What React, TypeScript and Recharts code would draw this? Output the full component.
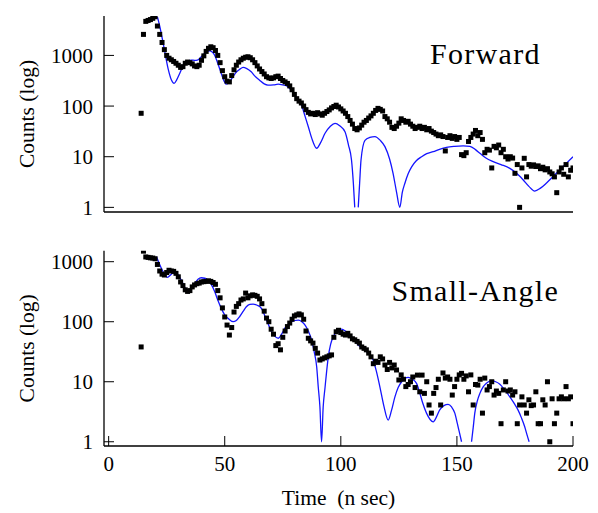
import React from 'react';
import { ComposedChart, Scatter, Line, XAxis, YAxis } from 'recharts';

const FONT = '"Liberation Serif", "Times New Roman", Times, serif';

const timeTicks = [0, 50, 100, 150, 200];
const countTicks = [1, 10, 100, 1000];

// measured counts, one per ns starting at t = 14
const firstTime = 14;

const forwardCounts = [
  72, 2600, 4700, 4900, 5100, 5400, 5800, 3800, 2600, 1800,
  1300, 1000, 880, 820, 760, 700, 640, 580, 600, 700,
  740, 720, 680, 620, 600, 640, 800, 980, 1200, 1380,
  1480, 1420, 1250, 1000, 720, 500, 380, 310, 300, 400,
  520, 640, 740, 820, 880, 920, 940, 900, 820, 720,
  620, 540, 480, 430, 380, 360, 350, 360, 380, 390,
  350, 320, 300, 280, 250, 210, 170, 140, 125, 115,
  100, 85, 75, 70, 72, 68, 74, 70, 66, 72,
  78, 84, 92, 98, 104, 96, 88, 80, 72, 62,
  52, 44, 36, 34, 37, 42, 48, 52, 58, 64,
  72, 82, 90, 86, 80, 62, 56, 48, 38, 36,
  40, 46, 56, 52, 48, 50, 44, 40, 36, 38,
  40, 36, 38, 34, 36, 32, 30, 28, 26, 27,
  25, 13, 24, 26, 23, 25, 22, 24, 11, 10.5,
  12, 20, 24, 28, 33, 26, 30, 22, 12, 14,
  13.5, 6, 16, 15, 17, 12, 14, 10, 9, 10,
  9.4, 4.7, 7, 1.0, 6, 9.3, 4, 7, 6.5, 6.9,
  6.4, 6.6, 5.8, 6.2, 5.5, 5.8, 5, 4.6, 4, 1.95,
  5, 6, 4.5, 7, 4, 5.4, 6,
];

const smallAngleCounts = [
  38, 1500, 1200, 1180, 1160, 1150, 1120, 900, 700, 620,
  600, 660, 720, 700, 690, 640, 560, 460, 400, 340,
  320, 330, 380, 410, 430, 440, 460, 465, 470, 480,
  470, 450, 420, 330, 250, 170, 120, 88, 60, 80,
  145, 180, 200, 230, 240, 300, 250, 270, 280, 275,
  265, 240, 200, 150, 115, 100, 75, 62, 40, 43,
  34, 55, 70, 83, 95, 110, 125, 130, 135, 130,
  110, 70, 53, 48, 44, 36, 30, 23, 24, 25,
  26, 27, 28, 55, 68, 72, 66, 62, 60, 64,
  58, 52, 50, 47, 44, 38, 36, 34, 30, 26,
  20, 22, 21, 26, 24, 19, 16, 21, 17, 19,
  15.7, 10.7, 13, 11, 8.3, 9, 10, 12, 8, 12.9,
  6.8, 12.9, 6.4, 10, 4.1, 3, 6.4, 8, 11, 4.1,
  14, 11.5, 12, 11, 6, 8.3, 11, 13, 13.8, 11,
  12.5, 6.8, 13, 4.1, 9, 8.8, 11, 3, 11.5, 7.3,
  8.3, 10, 6, 7, 6.4, 2, 7.3, 10, 7, 7.3,
  6, 6.8, 2, 4.1, 5.6, 4.1, 3, 5, 4, 4.1,
  6.8, 2, 2, 5, 4.1, 10, 1.0, 5.2, 2, 3,
  5.2, 5.6, 5.2, 8.3, 5.2, 5.6, 2,
];

// fitted curves [time, counts]; null marks where the curve drops below 1
const forwardFit: [number, number | null][] = [
  [21, 5750], [22, 3800], [23.5, 1730], [25.6, 550], [27, 330], [28.2, 280],
  [29.3, 330], [30.6, 440], [32, 620], [33.5, 750], [35.6, 810], [37, 800],
  [38.5, 820], [40, 950], [41.4, 1100], [43.5, 1230], [44.6, 1170], [45.7, 1000],
  [47, 700], [48.5, 440], [49.6, 320], [50.7, 270], [52, 300], [53.6, 380],
  [55, 470], [56.4, 530], [57.9, 580], [59.5, 550], [61.4, 475], [63, 390],
  [65, 325], [67, 275], [68.6, 260], [71, 262], [73, 270], [75, 262],
  [76.7, 250], [78.5, 210], [80.2, 165], [81.7, 130], [83.1, 104], [84.5, 65],
  [86, 39], [87.5, 23], [89.6, 14.7], [91.3, 19], [93.2, 29], [95.5, 40],
  [97.5, 45.6], [99.5, 41], [101.8, 31], [103.3, 17], [104.6, 8.6], [105.4, 3],
  [106, 1], [106.8, null], [107.5, 1], [108.1, 3], [108.7, 8.6], [110.4, 21],
  [112.5, 24], [114.7, 25], [117, 21], [119, 15.8], [121, 9], [122.5, 4.7],
  [124, 2], [125.4, 1], [126.5, 2], [127.6, 3], [129, 4.6], [130.5, 6.3],
  [132.5, 8.3], [134.8, 10], [137, 11.5], [139.8, 12.6], [142.5, 14], [145.5, 15.3],
  [149, 16], [152.7, 16.3], [155.6, 16], [158, 13.8], [159.9, 11.7], [162.5, 9.4],
  [165.6, 8.0], [169, 7], [172.8, 5.9], [175.5, 4.8], [178.5, 3.5], [181, 2.6],
  [183.5, 2.1], [186, 2.4], [188.5, 3], [191.5, 4.1], [194.3, 5.5], [197, 7.3],
  [200, 10],
];

const smallAngleFit: [number, number | null][] = [
  [20.6, 1210], [22.7, 780], [25.3, 550], [27, 620], [28.5, 680], [30, 600],
  [31.6, 465], [33, 360], [34.2, 303], [35.6, 350], [37.1, 435], [38.5, 510],
  [39.9, 540], [41.4, 530], [42.8, 495], [44.2, 420], [45.7, 316], [47, 230],
  [48.5, 167], [50, 130], [51.4, 114], [53.6, 100], [55, 105], [56.4, 121],
  [58, 150], [59.3, 178], [60.8, 195], [62.2, 197], [64, 188], [65.8, 167],
  [67.3, 125], [68.6, 94], [70.2, 68], [71.6, 57], [73.1, 53], [74.5, 62],
  [75.9, 78], [77.4, 90], [78.8, 100], [81.7, 106], [83.2, 100], [84.6, 88],
  [86, 70], [87.4, 50], [88.5, 32], [89.6, 17.8], [90.3, 8], [91, 3.8],
  [91.7, 1.0], [92.4, 3.8], [93.2, 8], [93.9, 15], [94.6, 26], [95.6, 42],
  [96.7, 56], [98.5, 70], [100.3, 75], [102, 70], [103.9, 60], [105.7, 50],
  [107.5, 41], [109.3, 36], [111.1, 31.6], [112.5, 28], [113.9, 23], [115.3, 15],
  [116.8, 8.3], [118.5, 4], [120.4, 2.3], [121.8, 3.3], [123.3, 5.6], [124.7, 8],
  [126.2, 10], [129, 11.8], [130.8, 11], [132.6, 9.4], [134, 6.5], [135.2, 4.5],
  [136.9, 3], [139.8, 2.15], [141.2, 2.6], [142.6, 3.4], [144.4, 4.0], [146.2, 4.2],
  [147.7, 3.8], [149.1, 3], [150.2, 2.0], [151, 1.47], [152, 1.0], [154, null],
  [156.3, 1.0], [157, 1.7], [157.7, 3], [158.8, 4.8], [159.9, 6.4], [161.3, 8.2],
  [162.7, 9.4], [164.9, 10.4], [166.7, 10], [168.5, 9.1], [170.6, 7.3], [172.8, 5.6],
  [174.6, 4.4], [176.3, 3.4], [177.8, 2.5], [179.2, 1.78], [180.2, 1.3], [181.1, 1.0],
];

const toPoints = (counts: number[]) => counts.map((y, i) => ({ x: firstTime + i, y }));
const toCurve = (fit: [number, number | null][]) => fit.map(([x, y]) => ({ x, y }));

const Square = (props: any) => (
  <rect x={props.cx - 2.5} y={props.cy - 2.5} width={5} height={5} fill="#000" />
);

const tickStyle = { fontFamily: FONT, fontSize: 21, fill: '#000' };
const labelStyle = { fontFamily: FONT, fontSize: 21.5, fill: '#000', textAnchor: 'middle' as const };

function Panel({ height, top, bottom, yDomain, points, curve, showTime }: any) {
  return (
    <ComposedChart width={598} height={height} margin={{ top, right: 25, bottom: 0, left: 0 }}>
      <XAxis
        dataKey="x"
        type="number"
        domain={[-2, 200]}
        allowDataOverflow
        ticks={timeTicks}
        height={bottom}
        tickSize={-10}
        tickMargin={20}
        axisLine={{ stroke: '#000', strokeWidth: 1.3 }}
        tickLine={{ stroke: '#000', strokeWidth: 1 }}
        tick={showTime ? tickStyle : false}
        label={showTime ? { value: 'Time\u00A0 (n sec)', position: 'insideBottom', offset: 8, style: labelStyle } : undefined}
      />
      <YAxis
        dataKey="y"
        type="number"
        scale="log"
        domain={yDomain}
        allowDataOverflow
        ticks={countTicks}
        width={104}
        tickSize={-10}
        tickMargin={21}
        axisLine={{ stroke: '#000', strokeWidth: 1.3 }}
        tickLine={{ stroke: '#000', strokeWidth: 1 }}
        tick={tickStyle}
        label={{ value: 'Counts (log)', angle: -90, position: 'insideLeft', offset: 26, style: labelStyle }}
      />
      <Scatter data={points} shape={Square} isAnimationActive={false} />
      <Line
        data={curve}
        dataKey="y"
        type="monotone"
        stroke="#1414ff"
        strokeWidth={1.3}
        dot={false}
        activeDot={false}
        connectNulls={false}
        isAnimationActive={false}
      />
    </ComposedChart>
  );
}

export default function App() {
  return (
    <div style={{ position: 'absolute', left: 0, top: 0, width: 598, height: 513, background: '#fff' }}>
      <div style={{ position: 'absolute', left: 0, top: 0 }}>
        <Panel
          height={230}
          top={16}
          bottom={18}
          yDomain={[0.81, 6000]}
          points={toPoints(forwardCounts)}
          curve={toCurve(forwardFit)}
          showTime={false}
        />
      </div>
      <div style={{ position: 'absolute', left: 0, top: 230 }}>
        <Panel
          height={283}
          top={20.7}
          bottom={67}
          yDomain={[0.85, 1525]}
          points={toPoints(smallAngleCounts)}
          curve={toCurve(smallAngleFit)}
          showTime
        />
      </div>
      <svg width={598} height={513} style={{ position: 'absolute', left: 0, top: 0, pointerEvents: 'none' }}>
        <text x={430} y={64} fontFamily={FONT} fontSize={30} letterSpacing={1.3} fill="#000">Forward</text>
        <text x={391.5} y={300.7} fontFamily={FONT} fontSize={30} letterSpacing={1.3} fill="#000">Small-Angle</text>
      </svg>
    </div>
  );
}
